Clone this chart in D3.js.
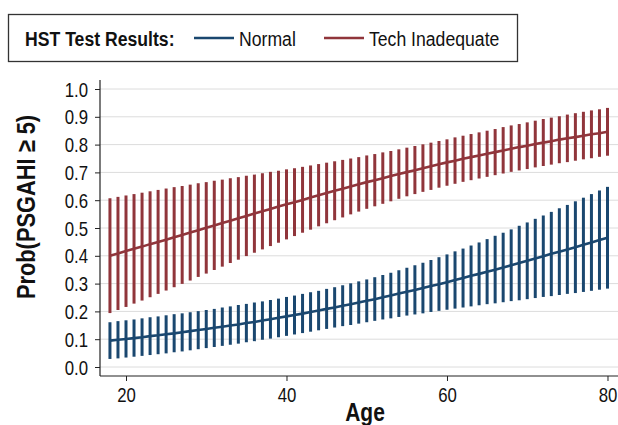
<!DOCTYPE html>
<html>
<head>
<meta charset="utf-8">
<script src="https://cdn.jsdelivr.net/npm/d3@7"></script>
<style>
  body { margin: 0; background: #fff; }
  svg { display: block; font-family: "Liberation Sans", Arial, sans-serif; }
</style>
</head>
<body>
<div id="chart"></div>
<script>
'use strict';

// ages on the x axis
const ages = [18, 19, 20, 21, 22, 23, 24, 25, 26, 27, 28, 29, 30, 31, 32, 33, 34, 35, 36, 37, 38,
  39, 40, 41, 42, 43, 44, 45, 46, 47, 48, 49, 50, 51, 52, 53, 54, 55, 56, 57, 58, 59, 60, 61,
  62, 63, 64, 65, 66, 67, 68, 69, 70, 71, 72, 73, 74, 75, 76, 77, 78, 79, 80];

// HST result: Normal
const normalProb = [.095, .098, .101, .104, .107, .111, .114, .118, .121, .125, .129, .133, .137,
  .141, .145, .149, .153, .158, .162, .167, .172, .177, .182, .187, .192, .198, .203, .209, .214,
  .220, .226, .232, .238, .244, .251, .257, .264, .271, .277, .284, .291, .298, .305, .313, .320,
  .328, .335, .343, .350, .358, .366, .374, .382, .390, .398, .407, .415, .423, .431, .440, .448,
  .457, .465];
const normalLo = [.029, .031, .034, .037, .040, .043, .046, .049, .053, .056, .060, .064, .068,
  .072, .076, .080, .084, .089, .093, .098, .102, .107, .112, .117, .122, .127, .132, .137, .142,
  .147, .151, .156, .161, .166, .171, .175, .180, .185, .189, .193, .198, .202, .206, .210, .214,
  .218, .222, .226, .229, .233, .237, .240, .244, .248, .252, .255, .259, .263, .266, .270, .274,
  .278, .282];
const normalHi = [.161, .165, .168, .171, .175, .179, .182, .186, .190, .193, .197, .201, .205,
  .209, .214, .218, .223, .227, .232, .236, .241, .246, .252, .257, .263, .269, .274, .281, .287,
  .294, .301, .308, .315, .323, .331, .339, .348, .357, .366, .375, .385, .395, .405, .416, .426,
  .437, .448, .460, .472, .483, .495, .508, .520, .533, .545, .558, .571, .583, .596, .609, .622,
  .635, .648];

// HST result: Tech Inadequate
const techProb = [.400, .408, .417, .425, .433, .442, .450, .458, .467, .475, .484, .492, .501,
  .509, .518, .526, .535, .543, .552, .560, .568, .577, .585, .593, .601, .610, .618, .626, .634,
  .641, .649, .657, .665, .672, .679, .687, .694, .701, .708, .715, .722, .729, .736, .742, .749,
  .755, .761, .767, .773, .779, .785, .791, .796, .802, .807, .812, .818, .823, .827, .832, .837,
  .841, .846];
const techLo = [.194, .205, .216, .228, .239, .251, .263, .275, .287, .299, .311, .324, .336,
  .349, .361, .374, .386, .399, .411, .423, .435, .447, .459, .471, .483, .494, .506, .517, .528,
  .538, .549, .559, .569, .578, .587, .596, .605, .614, .622, .630, .637, .645, .652, .659, .666,
  .672, .678, .684, .690, .696, .702, .707, .712, .718, .723, .728, .733, .737, .742, .747, .751,
  .756, .760];
const techHi = [.607, .612, .617, .622, .627, .632, .637, .642, .647, .651, .656, .661, .665,
  .670, .674, .679, .683, .688, .692, .697, .702, .706, .711, .715, .720, .725, .730, .735, .740,
  .745, .750, .755, .761, .766, .772, .777, .783, .789, .795, .801, .807, .813, .819, .826, .832,
  .838, .844, .850, .856, .863, .869, .874, .880, .886, .892, .897, .902, .908, .913, .918, .923,
  .927, .932];

const xTicks = [20, 40, 60, 80];
const yTicks = [0, .1, .2, .3, .4, .5, .6, .7, .8, .9, 1];

const seriesNames = ['Normal', 'Tech Inadequate'];
const colors = ['#1a476f', '#90353b'];

const width = 618;
const height = 425;
const plot = { left: 100, right: 618, top: 80, bottom: 376 };
// the source font is a narrow sans, so squeeze text horizontally
const squeeze = 0.84;

const svg = d3.select('#chart').append('svg')
  .attr('width', width)
  .attr('height', height)
  .attr('viewBox', `0 0 ${width} ${height}`);

const x = d3.scaleLinear().domain([16.76, 81.31]).range([plot.left, plot.right]);
const y = d3.scaleLinear().domain([0, 1]).range([367, 89]);

// place a squeezed text at (tx, ty)
function addText (parent, tx, ty, str, size, opts = {}) {
  const rot = opts.rotate ? ' rotate(-90)' : '';
  return parent.append('text')
    .attr('transform', `translate(${tx},${ty})${rot} scale(${squeeze},1)`)
    .attr('text-anchor', opts.anchor || 'start')
    .attr('fill', '#111')
    .style('font-size', size + 'px')
    .style('font-weight', opts.bold ? 'bold' : 'normal')
    .text(str);
}

// gridlines
svg.append('g')
  .selectAll('line')
  .data(yTicks)
  .enter().append('line')
  .attr('x1', plot.left).attr('x2', plot.right)
  .attr('y1', d => y(d)).attr('y2', d => y(d))
  .attr('stroke', '#dcdcdc')
  .attr('stroke-width', 1);

// build rows for each series
const series = [
  ages.map((a, i) => ({ age: a, p: normalProb[i], lo: normalLo[i], hi: normalHi[i] })),
  ages.map((a, i) => ({ age: a, p: techProb[i], lo: techLo[i], hi: techHi[i] }))
];

series.forEach((rows, k) => {
  const g = svg.append('g');

  // CI spikes
  g.selectAll('line')
    .data(rows)
    .enter().append('line')
    .attr('x1', d => x(d.age)).attr('x2', d => x(d.age))
    .attr('y1', d => y(d.lo)).attr('y2', d => y(d.hi))
    .attr('stroke', colors[k])
    .attr('stroke-width', 3);

  // predicted line
  g.append('path')
    .datum(rows)
    .attr('fill', 'none')
    .attr('stroke', colors[k])
    .attr('stroke-width', 2.6)
    .attr('d', d3.line().x(d => x(d.age)).y(d => y(d.p)));
});

// axes
const yAxis = svg.append('g')
  .attr('transform', `translate(${plot.left},0)`)
  .call(d3.axisLeft(y).tickValues(yTicks).tickFormat(d3.format('.1f')).tickSize(5));

const xAxis = svg.append('g')
  .attr('transform', `translate(0,${plot.bottom})`)
  .call(d3.axisBottom(x).tickValues(xTicks).tickFormat(d3.format('d')).tickSize(5));

[yAxis, xAxis].forEach(ax => {
  ax.select('.domain').remove();
  ax.selectAll('.tick line').attr('stroke', '#222');
  ax.selectAll('.tick text')
    .attr('fill', '#111')
    .style('font-size', '20px')
    .style('font-family', '"Liberation Sans", Arial, sans-serif');
});

yAxis.selectAll('.tick text')
  .attr('x', -12 / squeeze)
  .attr('dy', '0.35em')
  .attr('transform', `scale(${squeeze},1)`);
xAxis.selectAll('.tick text')
  .attr('y', 12)
  .attr('transform', `scale(${squeeze},1)`);

svg.append('line')
  .attr('x1', plot.left).attr('x2', plot.left)
  .attr('y1', plot.top).attr('y2', plot.bottom)
  .attr('stroke', '#222').attr('stroke-width', 1.2);
svg.append('line')
  .attr('x1', plot.left).attr('x2', plot.right)
  .attr('y1', plot.bottom).attr('y2', plot.bottom)
  .attr('stroke', '#222').attr('stroke-width', 1.2);

// axis titles
addText(svg, 35, 207, 'Prob(PSGAHI \u2265 5)', 26, { rotate: true, bold: true, anchor: 'middle' });
addText(svg, 365, 421, 'Age', 25, { bold: true, anchor: 'middle' });

// legend
const legend = svg.append('g');
legend.append('rect')
  .attr('x', 8.5).attr('y', 14.5)
  .attr('width', 509).attr('height', 47)
  .attr('fill', '#fff')
  .attr('stroke', '#333')
  .attr('stroke-width', 1.3);

addText(legend, 25, 45.5, 'HST Test Results:', 21, { bold: true });

const legendX = [194, 324];
seriesNames.forEach((name, k) => {
  legend.append('line')
    .attr('x1', legendX[k]).attr('x2', legendX[k] + 40)
    .attr('y1', 38).attr('y2', 38)
    .attr('stroke', colors[k])
    .attr('stroke-width', 2.6);
  addText(legend, legendX[k] + 45, 45.5, name, 21);
});
</script>
</body>
</html>
